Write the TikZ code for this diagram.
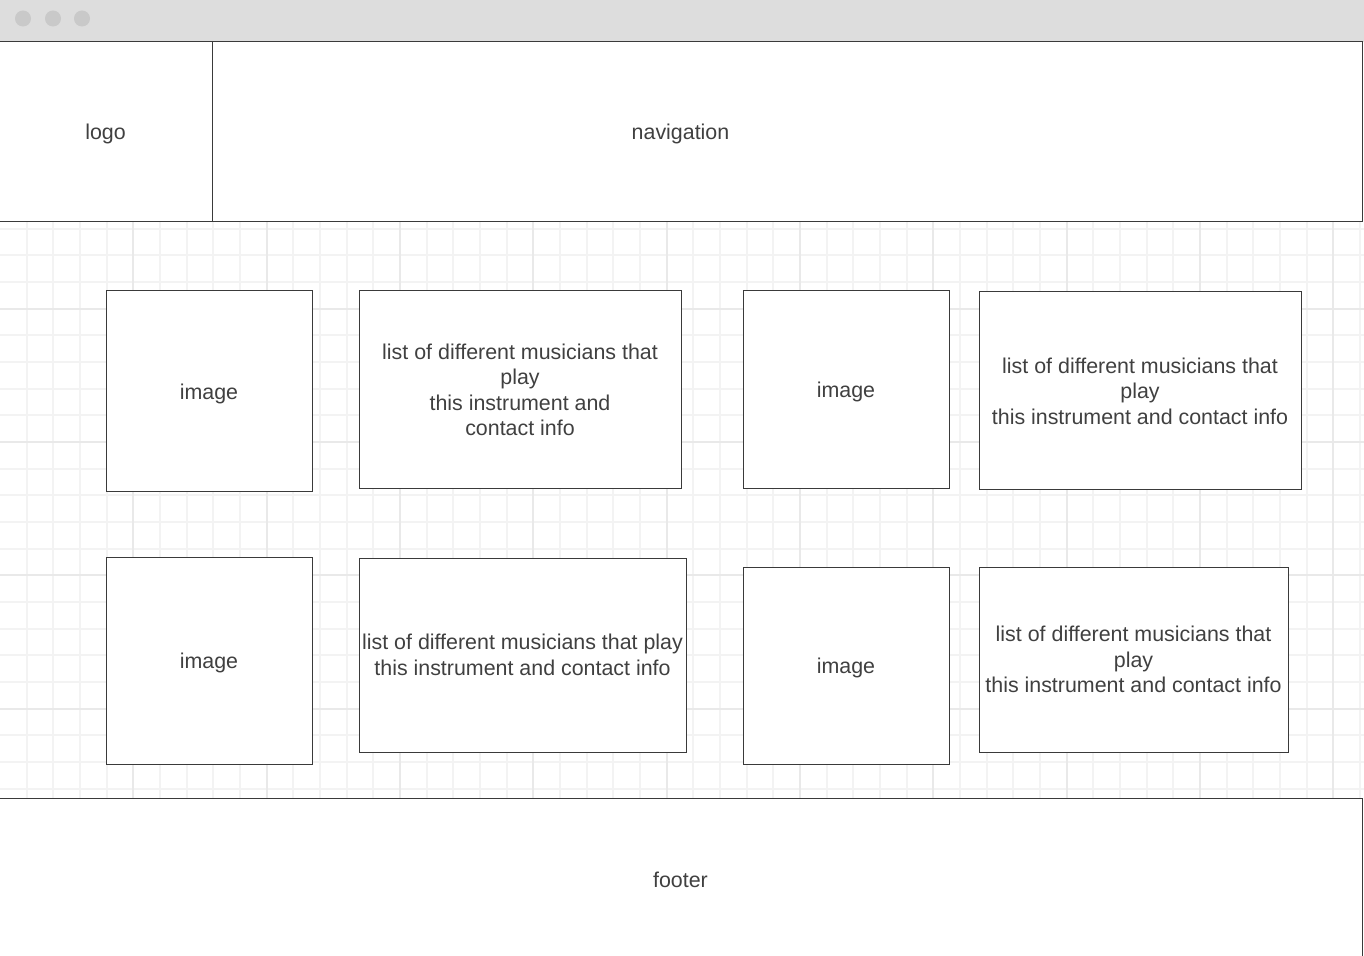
\documentclass[tikz,border=0pt]{standalone}
\usepackage{fontspec}
\setmainfont{Liberation Sans}
\usepackage{xcolor}
\definecolor{barfill}{HTML}{DDDDDD}
\definecolor{dotfill}{HTML}{C9C9C9}
\definecolor{edge}{HTML}{3A3A3A}
\definecolor{ink}{HTML}{404040}
\definecolor{gridminor}{HTML}{F3F3F3}
\definecolor{gridmajor}{HTML}{E9E9E9}
\usepackage{tikz}
\usetikzlibrary{positioning}

\begin{document}
\begin{tikzpicture}[x=0.5pt,y=-0.5pt,
  block/.style={draw=edge,line width=0.5pt,fill=white,rectangle,inner sep=0pt,outer sep=0pt,align=center,text=ink,font=\fontsize{10.7}{12.7}\selectfont},
  single/.style={block,text depth=0pt}]
\useasboundingbox (0,0) rectangle (1364,956);

%window bar
\fill[barfill] (0,0) rectangle (1364,42);
\foreach \x in {23,53,82}{
  \fill[dotfill] (\x,18.5) circle (4pt);
}

%background grid
\foreach \i in {1,...,51}{
  \draw[gridminor,line width=1pt] ({\i*26.667},222) -- ({\i*26.667},798);
}
\foreach \j in {0,...,21}{
  \draw[gridminor,line width=1pt] (0,{228.67+\j*26.667}) -- (1364,{228.67+\j*26.667});
}
\foreach \i in {1,...,10}{
  \draw[gridmajor,line width=1pt] ({\i*133.33},222) -- ({\i*133.33},798);
}
\foreach \j in {0,...,3}{
  \draw[gridmajor,line width=1pt] (0,{308.67+\j*133.33}) -- (1364,{308.67+\j*133.33});
}

%header
\node (nav) at (680.5,132) [single,minimum width=681.5pt,minimum height=90pt] {navigation};
\node (logo) at (105.5,132) [single,minimum width=106.5pt,minimum height=90pt] {logo};

%first row
\node (img1) at (209,391.5) [single,minimum width=103pt,minimum height=100.5pt] {image};
\node (list1) at (520,390) [block,minimum width=161pt,minimum height=99pt] {list of different musicians that\\play\\this instrument and\\contact info};
\node (img2) at (846,390) [single,minimum width=103pt,minimum height=99pt] {image};
\node (list2) at (1140,391) [block,minimum width=161pt,minimum height=99pt] {list of different musicians that\\play\\this instrument and contact info};

%second row
\node (img3) at (209,660.5) [single,minimum width=103pt,minimum height=103.5pt] {image};
\node (list3) at (522.5,655) [block,minimum width=163.5pt,minimum height=97pt] {list of different musicians that play\\this instrument and contact info};
\node (img4) at (846,665.5) [single,minimum width=103pt,minimum height=98.5pt] {image};
\node (list4) at (1133.5,659.5) [block,minimum width=154.5pt,minimum height=92.5pt] {list of different musicians that\\play\\this instrument and contact info};

%footer
\node (foot) at (680.5,880) [single,minimum width=681.5pt,minimum height=82pt] {footer};
\end{tikzpicture}
\end{document}
